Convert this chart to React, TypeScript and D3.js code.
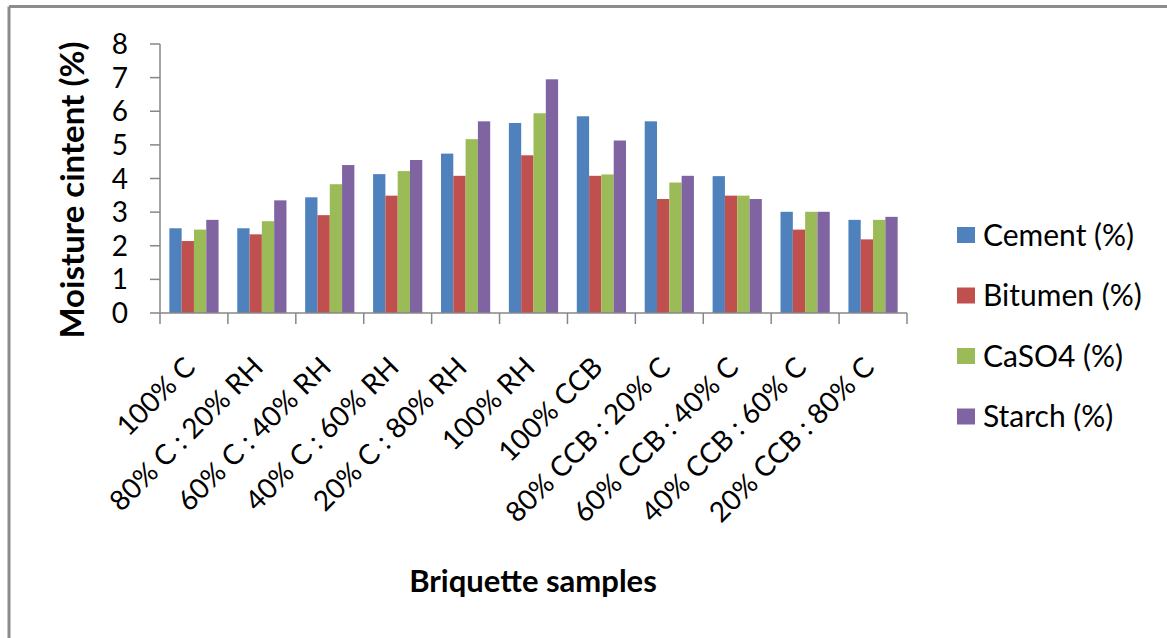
import React from 'react';
import * as d3 from 'd3';

const categories = [
  '100% C',
  '80% C : 20% RH',
  '60% C : 40% RH',
  '40% C : 60% RH',
  '20% C : 80% RH',
  '100% RH',
  '100% CCB',
  '80% CCB : 20% C',
  '60% CCB : 40% C',
  '40% CCB : 60% C',
  '20% CCB : 80% C',
];

const seriesNames = ['Cement (%)', 'Bitumen (%)', 'CaSO4 (%)', 'Starch (%)'];
const seriesColors = ['#4F81BD', '#C0504D', '#9BBB59', '#8064A2'];

const cement = [2.52, 2.52, 3.44, 4.13, 4.74, 5.65, 5.85, 5.7, 4.07, 3.01, 2.77];
const bitumen = [2.14, 2.34, 2.91, 3.49, 4.08, 4.69, 4.08, 3.39, 3.49, 2.48, 2.19];
const caso4 = [2.48, 2.73, 3.83, 4.22, 5.17, 5.94, 4.12, 3.88, 3.49, 3.01, 2.77];
const starch = [2.77, 3.35, 4.4, 4.55, 5.7, 6.95, 5.13, 4.08, 3.39, 3.01, 2.86];

const yTicks = [0, 1, 2, 3, 4, 5, 6, 7, 8];

const FONT = 'Lato, "Open Sans", sans-serif';

export default function App() {
  const width = 1167;
  const height = 638;
  const values = [cement, bitumen, caso4, starch];

  const x = d3.scaleBand<string>().domain(categories).range([160, 907]).padding(0);
  const inner = d3
    .scaleBand<string>()
    .domain(seriesNames)
    .range([0, x.bandwidth()])
    .paddingInner(0)
    .paddingOuter(0.76);
  const y = d3.scaleLinear().domain([0, 8]).range([313, 44]);

  const axisColor = '#878787';
  const boundaries = categories.map((c) => x(c) as number).concat([x.range()[1]]);

  return (
    <svg
      width={width}
      height={height}
      style={{ position: 'absolute', left: 0, top: 0, background: '#fff' }}
      fontFamily={FONT}
    >
      <rect x={0} y={0} width={width} height={height} fill="#fff" />
      {/* outer frame, only top and left edges show */}
      <line x1={9} y1={6.5} x2={width} y2={6.5} stroke="#8c8c8c" strokeWidth={3} />
      <line x1={9} y1={6.5} x2={9} y2={height} stroke="#8c8c8c" strokeWidth={3} />

      {/* bars */}
      {values.map((vals, si) =>
        vals.map((v, ci) => (
          <rect
            key={`${si}-${ci}`}
            x={(x(categories[ci]) as number) + (inner(seriesNames[si]) as number)}
            y={y(v)}
            width={inner.bandwidth()}
            height={y(0) - y(v)}
            fill={seriesColors[si]}
          />
        ))
      )}

      {/* y axis */}
      <line x1={160} y1={y(8)} x2={160} y2={y(0)} stroke={axisColor} strokeWidth={1.5} />
      {yTicks.map((t) => (
        <g key={t}>
          <line x1={150} y1={y(t)} x2={160} y2={y(t)} stroke={axisColor} strokeWidth={1.5} />
          <text x={128} y={y(t)} dy="0.36em" textAnchor="end" fontSize={28} fill="#000">
            {t}
          </text>
        </g>
      ))}

      {/* x axis */}
      <line x1={160} y1={y(0)} x2={x.range()[1]} y2={y(0)} stroke={axisColor} strokeWidth={1.5} />
      {boundaries.map((b, i) => (
        <line key={i} x1={b} y1={y(0)} x2={b} y2={y(0) + 11} stroke={axisColor} strokeWidth={1.5} />
      ))}
      {categories.map((c) => {
        const cx = (x(c) as number) + x.bandwidth() / 2 + 3;
        const cy = 369;
        return (
          <text
            key={c}
            x={cx}
            y={cy}
            textAnchor="end"
            fontSize={28}
            fill="#000"
            transform={`rotate(-45, ${cx}, ${cy})`}
          >
            {c}
          </text>
        );
      })}

      {/* axis titles */}
      <text
        x={72}
        y={190}
        textAnchor="middle"
        dy="0.35em"
        fontSize={33}
        fontWeight="bold"
        transform="rotate(-90, 72, 190)"
      >
        Moisture cintent (%)
      </text>
      <text x={533} y={592} textAnchor="middle" fontSize={31} fontWeight="bold">
        Briquette samples
      </text>

      {/* legend */}
      {seriesNames.map((s, i) => {
        const cy = 235 + i * 60.5;
        return (
          <g key={s}>
            <rect x={957} y={cy - 8} width={18} height={16} fill={seriesColors[i]} />
            <text x={983} y={cy} dy="0.36em" fontSize={30} fill="#000">
              {s}
            </text>
          </g>
        );
      })}
    </svg>
  );
}
